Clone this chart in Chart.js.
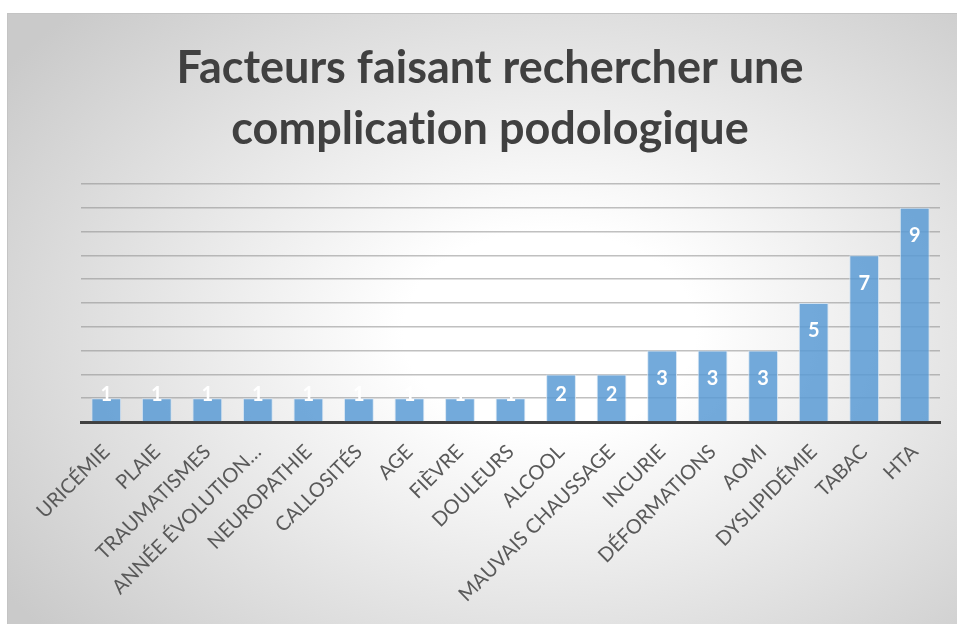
<!DOCTYPE html>
<html>
<head>
<meta charset="utf-8">
<script src="https://cdn.jsdelivr.net/npm/chart.js@4.4.1/dist/chart.umd.min.js"></script>
<style>
  html, body { margin: 0; padding: 0; background: #fff; }
  #frame {
    position: absolute; left: 7px; top: 13px;
    width: 950px; height: 611px;
    border-top: 1px solid #c4c4c4; border-left: 1px solid #c4c4c4;
    background: radial-gradient(ellipse 70% 75% at 57% 52%, #ffffff 0%, #ffffff 22%, #cacaca 100%);
  }
  #chart { display: block; }
</style>
</head>
<body>
<div id="frame"><canvas id="chart" width="950" height="611"></canvas></div>
<script>
const categories = [
  "URICÉMIE", "PLAIE", "TRAUMATISMES", "ANNÉE ÉVOLUTION…", "NEUROPATHIE",
  "CALLOSITÉS", "AGE", "FIÈVRE", "DOULEURS", "ALCOOL", "MAUVAIS CHAUSSAGE",
  "INCURIE", "DÉFORMATIONS", "AOMI", "DYSLIPIDÉMIE", "TABAC", "HTA"
];
const values = [1, 1, 1, 1, 1, 1, 1, 1, 1, 2, 2, 3, 3, 3, 5, 7, 9];
// zero-width non-joiner keeps Lato from drawing the "ti" ligature
const titleLines = ["Facteurs faisant rechercher une", "complicat\u200Cion podologique"];

// white value labels near the top of each bar
const barLabels = {
  id: "barLabels",
  afterDatasetsDraw(chart) {
    const ctx = chart.ctx;
    const meta = chart.getDatasetMeta(0);
    ctx.save();
    ctx.fillStyle = "#ffffff";
    ctx.font = "bold 20px Lato";
    ctx.textAlign = "center";
    ctx.textBaseline = "middle";
    meta.data.forEach((bar, i) => {
      const y = Math.min(bar.y + 28, bar.base - 27);
      ctx.fillText(String(values[i]), bar.x, y);
    });
    ctx.restore();
  }
};

new Chart(document.getElementById("chart").getContext("2d"), {
  type: "bar",
  data: {
    labels: categories,
    datasets: [{
      data: values,
      backgroundColor: "rgba(91,155,213,0.85)",
      borderColor: "rgba(210,226,242,0.9)",
      borderWidth: 1,
      categoryPercentage: 1,
      barPercentage: 0.59
    }]
  },
  options: {
    responsive: false,
    animation: false,
    layout: { padding: { left: 14, right: 0, top: 0, bottom: 0 } },
    plugins: {
      legend: { display: false },
      tooltip: { enabled: false },
      title: {
        display: true,
        text: titleLines,
        color: "#404040",
        font: { family: "Lato", size: 45, weight: "bold", lineHeight: 1.355 },
        padding: { top: 24, bottom: 24 }
      }
    },
    scales: {
      x: {
        grid: { display: false, drawTicks: false },
        border: { display: true, color: "#404040", width: 3 },
        ticks: {
          color: "#595959",
          font: { family: "Lato", size: 20 },
          maxRotation: 45,
          minRotation: 45,
          autoSkip: false,
          padding: 18
        },
        afterFit(scale) { scale.height = 203; }
      },
      y: {
        min: 0,
        max: 10,
        ticks: { display: false, stepSize: 1 },
        border: { display: false },
        grid: { color: "rgba(140,140,140,0.55)", lineWidth: 1.5, drawTicks: false },
        afterFit(scale) { scale.width = 59; }
      },
      yRight: {
        position: "right",
        display: true,
        ticks: { display: false },
        grid: { display: false, drawTicks: false },
        border: { display: false },
        afterFit(scale) { scale.width = 18; }
      }
    }
  },
  plugins: [barLabels]
});
</script>
</body>
</html>
